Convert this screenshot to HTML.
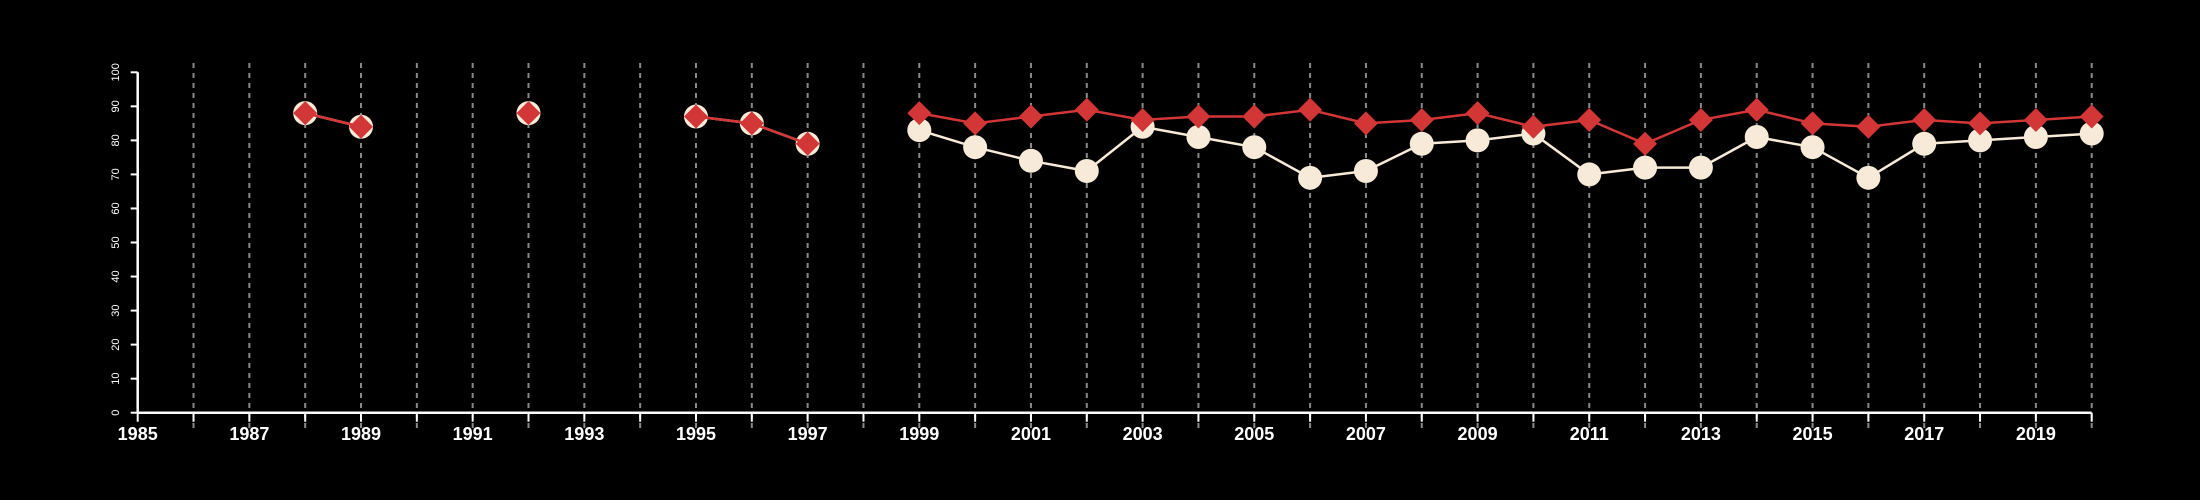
<!DOCTYPE html>
<html><head><meta charset="utf-8"><style>html,body{margin:0;background:#000}svg{display:block}</style></head>
<body>
<svg id="chart" width="2200" height="500" xmlns="http://www.w3.org/2000/svg" style="font-family:'Liberation Sans',sans-serif">
<rect width="2200" height="500" fill="#000"/>
<g id="grid"></g>
<g id="axes"></g>
<g id="series"></g>
</svg>
<script>
const years = [1988,1989,1990,1991,1992,1993,1994,1995,1996,1997,1998,1999,2000,2001,2002,2003,2004,2005,2006,2007,2008,2009,2010,2011,2012,2013,2014,2015,2016,2017,2018,2019,2020];
const redValues = [88,84,null,null,88,null,null,87,85,79,null,88,85,87,89,86,87,87,89,85,86,88,84,86,79,86,89,85,84,86,85,86,87];
const whiteValues = [88,84,null,null,88,null,null,87,85,79,null,83,78,74,71,84,81,78,69,71,79,80,82,70,72,72,81,78,69,79,80,81,82];
const yTicks = [0,10,20,30,40,50,60,70,80,90,100];
const xTickLabels = ["1985","1987","1989","1991","1993","1995","1997","1999","2001","2003","2005","2007","2009","2011","2013","2015","2017","2019"];

const NS="http://www.w3.org/2000/svg";
const x0=137.7,x1=2091.7,yr0=1985,yr1=2020,yb=412.7,yt=72.3;
const xs=y=>x0+(y-yr0)*(x1-x0)/(yr1-yr0);
const ys=v=>yb-v*(yb-yt)/100;
function mk(tag,attrs,parent){const e=document.createElementNS(NS,tag);for(const k in attrs)e.setAttribute(k,attrs[k]);parent.appendChild(e);return e;}
const grid=document.getElementById('grid'),axes=document.getElementById('axes'),ser=document.getElementById('series');

for(let y=1986;y<=2020;y++){
  const l=mk('line',{x1:xs(y),x2:xs(y),y1:63,y2:428,stroke:'#8a8a8a','stroke-width':2,'stroke-dasharray':'5,5'},grid);
  
  
}
// axes
let a=mk('line',{x1:x0,x2:x0,y1:yt,y2:yb,stroke:'#fff','stroke-width':2.5},axes);

a=mk('line',{x1:x0,x2:x1,y1:yb,y2:yb,stroke:'#fff','stroke-width':2.5},axes);

yTicks.forEach(v=>{
  const t=mk('line',{x1:x0-7,x2:x0,y1:ys(v),y2:ys(v),stroke:'#fff','stroke-width':2},axes);
  
  const tx=mk('text',{x:0,y:0,fill:'#fff','font-size':11,'text-anchor':'middle',transform:`translate(119,${ys(v)}) rotate(-90)`},axes);
  tx.textContent=v;
  
});
for(let y=yr0;y<=yr1;y++){
  const t=mk('line',{x1:xs(y),x2:xs(y),y1:yb,y2:yb+9,stroke:'#fff','stroke-width':2},axes);
  
}
xTickLabels.forEach(s=>{
  const tx=mk('text',{x:xs(+s),y:440,fill:'#fff','font-size':18,'font-weight':'bold','text-anchor':'middle'},axes);
  tx.textContent=s;
  
});
function segs(vals){const out=[];let cur=[];vals.forEach((v,i)=>{if(v==null){if(cur.length)out.push(cur);cur=[];}else cur.push([xs(years[i]),ys(v)]);});if(cur.length)out.push(cur);return out;}
function drawLine(vals,color,name){
  segs(vals).forEach(s=>{if(s.length<2)return;
    const p=mk('polyline',{points:s.map(q=>q.join(',')).join(' '),fill:'none',stroke:color,'stroke-width':2.5},ser);
    });
}
drawLine(whiteValues,'#f7ead8','white-series-line');
whiteValues.forEach((v,i)=>{if(v==null)return;
  const c=mk('circle',{cx:xs(years[i]),cy:ys(v),r:12,fill:'#f7ead8'},ser);
  });
drawLine(redValues,'#d23636','red-series-line');
redValues.forEach((v,i)=>{if(v==null)return;
  const cx=xs(years[i]),cy=ys(v),r=12;
  const d=mk('polygon',{points:`${cx},${cy-r} ${cx+r},${cy} ${cx},${cy+r} ${cx-r},${cy}`,fill:'#d23636'},ser);
  });
</script>
</body></html>
